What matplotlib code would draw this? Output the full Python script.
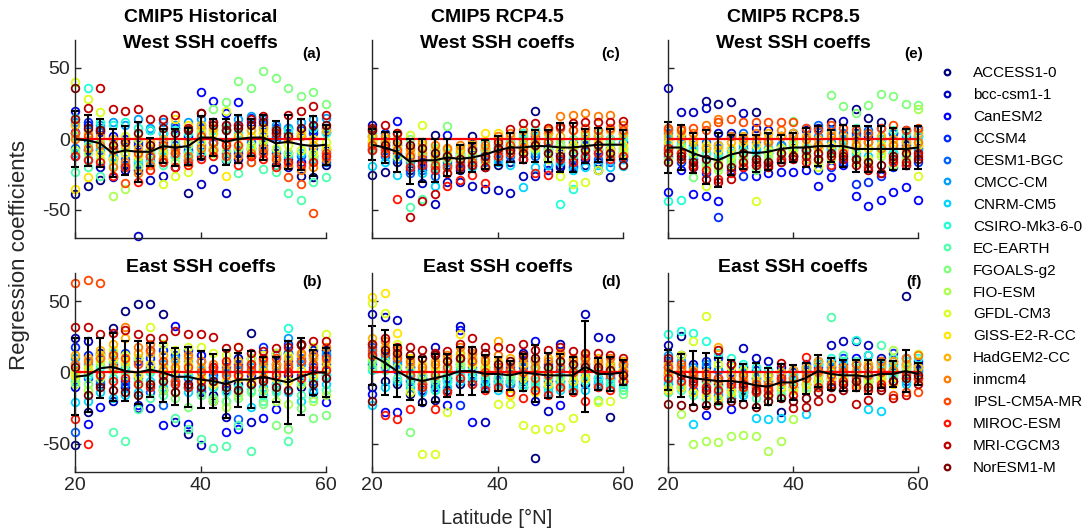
import matplotlib.pyplot as plt
import numpy as np
from matplotlib.lines import Line2D

plt.rcParams['font.family'] = ['Liberation Sans', 'DejaVu Sans']
plt.rcParams['axes.unicode_minus'] = False

W, H = 1091, 532

models = ['ACCESS1-0', 'bcc-csm1-1', 'CanESM2', 'CCSM4', 'CESM1-BGC', 'CMCC-CM',
          'CNRM-CM5', 'CSIRO-Mk3-6-0', 'EC-EARTH', 'FGOALS-g2', 'FIO-ESM', 'GFDL-CM3',
          'GISS-E2-R-CC', 'HadGEM2-CC', 'inmcm4', 'IPSL-CM5A-MR', 'MIROC-ESM',
          'MRI-CGCM3', 'NorESM1-M']
lats = [20, 22, 24, 26, 28, 30, 32, 34, 36, 38, 40, 42, 44, 46, 48, 50, 52, 54, 56, 58, 60]

# (a) historical, west SSH coefficients, one row per model
west_hist = [
    [-39, -33, -29, -14, -18, -22, -12, -16, -10, -38, -12, -8, -15, -10, -6, -8, -18, -14, -26, -27, -18],
    [-12, -8, -20, -27, -22, -68, -29, -26, -20, -15, -32, -21, -38, -14, -12, -4, -10, -20, -16, -12, -8],
    [20, 10, 5, 2, 0, -4, 6, 4, 8, 2, 33, 27, 18, 26, 12, 14, 8, 4, 2, 6, 5],
    [5, 12, 8, -6, -2, -2, -8, -2, -4, -8, 8, -3, 6, 10, 15, 10, 2, 8, 6, 4, 8],
    [-6, -1, -8, -12, -14, -18, -15, -10, -6, -9, -4, -6, -10, -8, -2, 2, 0, -10, -12, -6, -16],
    [12, 6, 10, 12, 10, 14, 8, 12, 10, 12, 14, 12, 10, 14, 16, 14, 10, 8, 12, 14, 15],
    [-10, -14, -6, -12, -10, -16, -10, -8, -12, -14, 4, -2, -4, -6, -8, -6, -8, -12, -10, -14, -10],
    [15, 36, 12, 10, 12, 8, 6, 4, 6, 4, 10, 6, 8, 4, 6, 8, 4, 6, 4, 8, 4],
    [-23, -20, -26, -18, -20, -14, -16, -18, -12, -10, -10, -12, -14, -24, -16, -21, -23, -38, -43, -30, -27],
    [2, -4, -2, -8, -6, -12, -10, -6, -2, -4, 4, 21, 26, 41, 36, 48, 43, 36, 30, 33, 25],
    [-8, -10, -14, -40, -35, -20, -18, -14, -16, -12, -6, -10, -8, -6, -4, -2, -14, -10, -8, -12, -6],
    [40, 28, 19, -6, 2, 0, -4, -32, -26, -23, -2, -6, 20, 2, -6, 0, -6, -4, -8, -10, -2],
    [-35, -27, -10, -14, -10, -12, -6, -10, 14, 10, 6, 4, -26, -4, 2, 4, 6, 2, 4, 0, -6],
    [10, 4, 2, 0, -4, -6, -2, 0, -6, -2, 10, 8, 6, 2, 6, 8, 4, 0, 2, -4, 6],
    [0, -6, -4, -20, -16, -24, -18, -14, -8, -12, -6, -8, -2, -12, -10, -6, -12, -18, -22, -20, -14],
    [4, 2, 6, -8, -31, -10, -12, -4, -10, -16, 2, -2, -12, -4, -16, -10, -14, -27, -32, -52, -10],
    [-12, -15, -16, -26, -20, -30, -22, -16, -20, -18, -14, -12, -4, -18, -12, -14, -20, -16, -18, -16, -12],
    [14, 22, 36, 21, 20, 21, 14, 14, 17, 8, 18, 12, 10, 10, 14, 16, 4, 17, 20, 23, 17],
    [36, 8, 6, -4, -2, 4, -4, 8, 4, 6, 18, 10, 6, 8, 10, 12, 6, 2, 8, 10, 10],
]
west_hist_mean = [0, -1, -3, -10, -8, -9, -9, -5, -6, -5, 1, 1, -2, 0, 1, 1, -3, -2, -4, -5, -4]
west_hist_std = [20, 18, 17, 17, 17, 21, 10, 12, 13, 13, 15, 13, 16, 17, 13, 16, 16, 19, 18, 21, 14]

# (b) historical, east SSH coefficients
east_hist = [
    [-51, -28, -8, 31, 43, 48, 48, 41, -6, -43, -14, -16, -12, -8, 28, -4, 6, -2, -10, -14, 16],
    [24, 22, 14, -20, -10, -25, -25, -12, -35, -10, -51, -20, -31, 10, -35, -12, 12, 14, 8, 16, 12],
    [-10, -36, -24, 10, -6, -23, 4, -37, 33, -36, 12, 4, -42, -40, -2, -32, -26, 8, 20, 12, -21],
    [18, 12, 10, 6, 14, 8, 10, 16, 12, 16, 8, -2, 4, 6, 10, 18, 14, 20, -2, 4, 6],
    [-42, -4, -6, 2, -8, -4, -14, -23, -2, -4, -12, -10, -8, -33, -8, 2, -8, 14, 10, -6, -2],
    [10, 6, 12, 14, 4, 10, 16, 6, 10, 8, 2, -4, 0, 2, 4, 6, 0, 24, 6, 10, 14],
    [-21, -20, -14, -18, -16, -14, -6, -10, -8, -14, -16, -18, -20, -14, -24, -10, -12, -14, -20, -12, -8],
    [-6, -2, 4, -4, 2, -8, 0, -4, -6, -2, -8, -10, -14, -10, -12, -16, -8, 31, -6, -4, -2],
    [2, 0, -2, -42, -48, -26, -18, -16, -32, -40, -47, -53, -52, -37, -55, -20, -14, -48, -16, -18, -12],
    [-4, -8, 6, 8, -2, -6, 2, -4, -18, -24, -16, -18, -20, -18, -14, -22, -37, -40, -25, -32, -30],
    [-8, -12, -4, 2, 6, -2, -8, -12, -14, 2, -2, -20, -24, -16, -6, -12, -20, -22, -8, -20, -16],
    [0, 4, 8, 16, 12, 10, 32, 20, 16, 18, 18, 14, 12, 18, 10, 12, 14, 12, 20, 18, 27],
    [-2, 2, 12, 10, 8, -2, 6, 4, 2, 6, -4, -8, -6, -4, -6, 0, -4, -6, 2, -2, 4],
    [12, 10, 16, 20, 24, 14, 14, 12, 8, 10, 4, 2, 6, 8, 6, 4, 6, 10, 12, 10, 8],
    [6, 8, 10, 4, 32, 18, 20, 2, 4, 12, 8, 6, 2, -2, 0, 8, 4, 6, 14, 12, 18],
    [63, 65, 63, 12, 10, 6, 16, 8, -6, 4, 0, 2, -2, 4, 2, -4, 10, 4, 8, 6, 10],
    [-33, -50, -2, -6, -4, -8, -10, -2, -8, -10, -6, 4, 8, -2, 6, 10, -2, 0, -4, 2, 2],
    [32, 32, 27, 28, 30, 27, 24, 24, 29, 27, 27, 25, 17, 18, 14, 15, 17, 18, 19, 22, 22],
    [4, -16, -10, -12, -14, -16, -8, -6, -14, -8, -10, -6, -10, -12, -8, -6, -10, -12, 20, -8, -4],
]
east_hist_mean = [-3, -2, 3, 4, 1, 0, 2, 0, -3, -3, -5, -6, -8, -5, -5, -3, -5, -7, -3, 0, 0]
east_hist_std = [27, 26, 21, 24, 21, 22, 19, 21, 20, 21, 20, 19, 24, 19, 20, 14, 16, 29, 27, 16, 17]

# (c) RCP4.5, west SSH coefficients
west_rcp45 = [
    [-25, -23, -16, -22, -20, 3, -18, -22, 2, -20, -18, -16, -14, 20, -18, -20, -14, -18, -16, -27, -12],
    [10, -2, -10, -38, -31, -46, -30, -30, -33, -35, -36, -38, -26, -26, -22, -18, -20, -14, -22, -12, -10],
    [-6, -8, 13, -14, -16, -20, 3, -12, -6, -8, -4, -8, -4, -2, -6, -10, -6, -4, -8, -6, -2],
    [2, 4, -4, -10, -12, -8, -14, -16, -18, -12, -10, -2, 0, 2, -2, -4, -2, 0, 2, 0, 4],
    [-8, -12, -14, -24, -22, -26, -16, -20, -14, -16, -14, -12, -10, -12, -14, -16, -18, -12, -14, -16, -14],
    [-2, -4, -6, -16, -18, -14, -12, -10, -8, -10, -6, -4, -8, -10, -8, -12, -10, -8, -10, -8, -6],
    [-19, -16, -25, -20, -24, -33, -20, -18, -20, -14, -16, -18, -34, -20, -18, -16, -22, -20, -18, -20, -19],
    [4, 2, 0, -6, -4, -10, -8, -6, -4, -2, 0, 2, 4, 6, 4, -46, -35, -6, -4, -2, 0],
    [-4, -6, -8, -48, -42, -20, -10, -12, -16, -14, -12, -10, -6, -8, -10, -8, -12, -10, -6, -10, -8],
    [-6, -2, -4, 0, -8, -6, 9, -10, -12, -8, -4, -2, 2, 4, 0, -2, 0, 2, 4, 0, 2],
    [-8, -10, -12, -14, -10, -16, -14, -12, -10, -6, -8, -6, -4, -6, -8, -4, -6, -2, -6, -4, -6],
    [0, -4, -2, 3, 10, -8, -12, -14, -16, -18, -12, -10, -8, -6, -14, -26, -32, -30, -22, -12, -10],
    [-2, 0, -6, -10, -4, -12, -8, -6, -8, 4, 4, -4, -6, -2, 8, -8, -4, -6, -2, -8, -4],
    [2, -2, 0, -8, -10, -12, -6, -8, -4, -6, 0, 2, -2, 0, 4, 2, 6, 4, 2, 6, 4],
    [6, 2, 4, -6, -2, -4, -6, -4, -2, -4, 2, 4, 6, 4, 6, 16, 17, 18, 16, 17, 10],
    [-4, -6, -8, -12, -14, -18, -20, -18, -16, -14, -8, -4, -6, -4, -2, 8, 6, 8, 6, 8, 6],
    [-8, -10, -42, -20, -18, -22, -33, -29, -25, -31, -12, -10, -14, -24, -25, -14, -16, -12, -10, -14, -12],
    [8, 10, 4, -55, -44, -39, -24, -20, -18, -20, -2, 7, 11, 11, 8, 9, 11, 12, 12, 12, 13],
    [6, -4, -2, -4, -6, -10, -12, -14, -8, -12, -6, -8, -10, -4, -10, -12, -10, -8, -4, -10, -18],
]
west_rcp45_mean = [-4, -6, -9, -16, -15, -15, -13, -14, -13, -11, -8, -6, -6, -5, -5, -6, -6, -5, -4, -4, -4]
west_rcp45_std = [11, 11, 14, 16, 15, 15, 13, 10, 10, 10, 10, 10, 11, 11, 11, 17, 17, 12, 12, 11, 10]

# (d) RCP4.5, east SSH coefficients
east_rcp45 = [
    [-10, -6, -8, -15, -21, -19, -12, -8, -6, -10, -8, -6, -10, -60, -10, -6, -12, -8, -4, -31, -6],
    [41, 39, 37, 4, -8, 18, -4, 33, 10, -35, -6, 2, 14, -20, -27, 20, -6, 41, 25, 24, 6],
    [-15, -28, -28, -6, -12, -10, -23, 30, -35, -8, -4, -8, -6, 22, -6, -23, 4, 6, -8, -4, -6],
    [6, 4, 2, -2, -4, 0, 2, -23, 4, 2, 0, 4, 8, 4, 6, 2, 0, 4, 2, 4, 2],
    [18, 12, 8, 4, -2, -6, -4, 6, 8, 4, 2, -2, 4, 8, 4, 0, 6, 10, 6, 2, 4],
    [14, 10, 6, 0, -4, -8, -6, 2, -2, -4, -6, -8, -4, 2, -4, -6, -8, -2, -6, -4, -2],
    [-23, -10, -6, -10, -14, -12, -10, -6, -8, -10, -12, -14, -8, -10, -14, -12, -10, -12, -8, -10, -8],
    [2, 6, 10, -4, -8, -12, -6, -2, -4, -6, -8, -4, -2, -6, -10, -8, -12, -6, -4, -8, -10],
    [8, 2, -4, -8, -10, -6, -2, 4, 2, -2, -4, -6, -10, -8, -4, -2, -6, -4, -10, -6, -12],
    [4, 8, 12, -42, -6, -4, 2, 8, 6, 4, 2, -2, 6, 4, 2, 6, 4, 8, -19, 2, -15],
    [10, 6, 4, 2, -2, 0, 4, 6, 8, 2, 4, 0, -2, 2, 0, -4, -2, 0, 4, 6, 2],
    [49, 42, 20, -14, -57, -57, -28, 12, 10, 6, -22, -22, -37, -40, -40, -38, -32, -46, -21, -20, -4],
    [53, 56, 28, 10, 6, 4, 8, 27, 6, 4, 8, -16, -4, -14, -8, -10, -6, -4, 6, 4, 2],
    [24, 18, 12, 6, 2, 8, 10, 14, 12, 10, 22, 10, 6, 8, 10, 12, 8, 12, 10, 6, 8],
    [20, 22, 16, 8, 4, 6, 12, 18, 14, 8, 12, 6, 10, 4, 8, 14, 10, 6, 8, 10, 6],
    [16, 14, 10, -2, -8, -2, 4, 10, 8, 0, 4, 2, 0, -4, -2, 4, 0, 10, 2, -2, 0],
    [12, -30, -33, -26, -10, -26, -14, -4, -8, -12, -10, -14, -18, -12, -16, -10, -14, -20, -10, -12, -6],
    [20, 24, 18, 18, 16, 14, 15, 20, 24, 18, 18, 17, 20, 16, 16, 18, 15, 14, 14, 12, 10],
    [-20, 16, 14, 12, 10, 12, 8, 10, 16, 14, 6, 8, 12, 10, 4, 8, 6, 4, 4, 2, -2],
]
east_rcp45_mean = [12, 7, 1, -4, -6, -4, -2, 1, 1, -1, -1, -2, 0, -1, -2, -2, -2, 4, -1, -1, 0]
east_rcp45_std = [21, 23, 18, 15, 17, 17, 15, 17, 17, 13, 12, 10, 13, 20, 16, 15, 13, 32, 11, 12, 9]

# (e) RCP8.5, west SSH coefficients
west_rcp85 = [
    [-8, -10, -14, 27, 25, 26, -6, 19, -10, -4, -6, -8, -6, 12, -8, 21, 15, 12, -10, -4, -6],
    [36, 19, 19, 22, 4, 4, 18, 8, 6, 2, 4, 6, 8, -6, 13, 4, 2, 0, 4, 6, 2],
    [-37, -22, -39, -40, -44, -18, -20, -26, -24, -23, -23, -22, -33, -27, -18, -40, -47, -43, -37, -34, -43],
    [-12, -16, -20, -24, -55, -22, -26, -18, -16, -14, -12, -14, -22, -20, -16, -32, -30, -26, -20, -18, -16],
    [4, 2, -4, -2, -6, 2, 4, -2, 0, 2, 4, 8, 10, 6, 4, 2, 6, 8, 4, 2, 6],
    [-4, -6, -8, -6, -10, -8, -4, -6, -2, -4, -2, 0, 2, -2, 0, -4, -2, -6, -4, -2, -8],
    [0, -2, -6, -10, -4, -12, -14, -8, -6, -10, -8, -6, -4, -8, -6, -10, -12, -8, -10, -6, -4],
    [-44, -43, -12, -16, -14, -10, -12, -14, -20, -16, -12, -10, -14, -8, -10, -12, -6, -8, -10, -12, 2],
    [6, -4, -6, -10, -12, -14, -8, -12, -10, -6, -4, -8, -10, -12, -4, 8, 4, 0, 6, 4, -2],
    [-10, -14, -27, -18, -20, -16, -18, -22, -14, -12, 13, -10, -6, 31, 23, 18, 24, 32, 30, 25, 24],
    [-14, -12, -16, -20, -22, -18, -14, -16, -12, -10, -8, -12, -16, -14, -12, -16, -14, -12, -18, -14, 21],
    [-8, -6, -10, -33, -16, -12, -10, -44, -8, -6, -10, -14, -20, -10, -12, -8, -14, -10, -12, -16, -26],
    [-2, 4, 0, -4, -8, -6, -2, -4, 0, 2, -2, -4, -6, -4, -8, -2, -6, -4, -2, -8, -4],
    [2, 0, -2, -6, -4, -2, 2, 0, 4, 2, 4, 2, 0, 4, 2, 0, -2, 2, 0, -2, 4],
    [6, 8, 4, 10, 14, 2, 0, 4, -2, 6, 2, 0, -4, 2, -2, -4, -2, -6, -4, -6, -2],
    [8, 6, 8, 6, 12, 14, 12, 12, 12, 12, 12, 8, 6, 10, 8, 6, 4, 8, 10, 6, 8],
    [-6, -10, -18, -22, -28, -24, -20, -16, -18, -14, -12, -16, -14, -18, -10, -14, -20, -24, -16, -18, -12],
    [-10, -14, -20, -28, -30, -28, -16, -18, -20, -16, -14, -12, -10, -12, -14, -18, -22, -24, -14, -16, -10],
    [-16, -12, -16, -14, -18, -20, -10, -14, -16, -10, -12, -8, -14, -10, -12, -14, -16, -18, -12, -10, -14],
]
west_rcp85_mean = [-6, -6, -10, -13, -15, -11, -9, -10, -9, -7, -6, -6, -5, -5, -5, -7, -7, -7, -7, -7, -6]
west_rcp85_std = [18, 16, 14, 19, 19, 14, 12, 13, 13, 10, 10, 14, 14, 11, 15, 16, 16, 16, 15, 14, 15]

# (f) RCP8.5, east SSH coefficients
east_rcp85 = [
    [-2, 26, -4, -6, -8, -10, -12, -14, -16, -28, -10, -8, -6, -4, -2, 0, -4, -2, 0, 54, 2],
    [19, 12, 6, 4, 2, 0, 17, 10, 8, 4, 2, 4, 6, 19, 22, 22, 19, 10, 8, 6, 8],
    [8, 4, 0, -30, -4, -26, -6, -4, -2, 0, -4, 2, 4, 8, 6, 10, 4, 6, 2, 4, 6],
    [4, 2, -2, 8, 10, 6, 4, 2, -6, -2, 0, 6, 8, 4, 10, 6, 12, 8, 14, 10, 4],
    [-8, -10, -12, -14, -16, -18, -14, -10, -12, -8, -6, -4, -2, -6, -4, -8, -6, -4, -2, -6, -4],
    [12, 8, 4, 6, 2, -2, 0, -4, -6, -4, -2, 2, 0, 4, 2, 0, -2, 4, 6, 2, 0],
    [-6, -8, -36, -10, -14, -12, -16, -32, -33, -32, -10, -29, -8, -10, -12, -6, -26, -27, -4, -8, -6],
    [27, 29, 28, 22, 14, 10, 6, 4, 2, 0, -2, 4, 6, 10, 8, 23, 12, 6, 4, 8, 10],
    [-14, -12, -16, -18, -20, -16, -14, -18, -20, -16, -12, -10, -8, 39, 12, 8, 6, 19, 10, 6, 4],
    [2, -2, -6, -8, -10, -12, -10, -14, -16, -12, -10, -8, -6, -4, -2, -6, -8, -4, -2, 0, -2],
    [-10, -29, -50, -48, -49, -45, -44, -45, -55, -48, -33, -12, -10, -8, -6, -10, -4, -6, 16, -4, 13],
    [-2, 12, 22, 40, 6, 4, 2, -2, -4, -6, -8, -4, -2, 0, -4, -2, -6, -2, 2, 4, 13],
    [-12, -10, -14, -16, -18, -14, -10, -12, -14, -10, -12, -8, -6, -4, -6, -8, -10, -6, -8, -4, -6],
    [6, 4, 2, 0, 18, -2, -4, -6, -2, 0, 2, 4, 8, 6, 4, 2, 6, 4, 8, 6, 4],
    [0, 2, -2, -4, -6, -8, -6, -10, -8, -6, -4, -2, 0, 2, 4, 6, 4, 8, 2, 10, 12],
    [4, 6, 0, -2, -4, -6, -2, -8, -10, -6, -8, -4, 2, -2, 0, -4, -2, 0, -16, -14, -14],
    [-4, -6, -8, -10, -12, -8, -10, -14, -12, -4, -16, 11, -10, -8, -6, -10, -12, -8, -6, -2, -4],
    [10, -2, -6, -12, 16, 6, -8, -12, -16, 7, -25, -24, -20, -18, -12, -22, -19, -10, -18, -16, -8],
    [-22, -23, -24, -23, -23, -20, -22, -24, -20, -18, -20, -18, -14, -10, -8, -6, -10, -12, -6, -4, -2],
]
east_rcp85_mean = [2, -2, -4, -5, -6, -6, -7, -9, -10, -7, -7, -4, 1, -1, -2, -2, -3, -1, -1, 1, -1]
east_rcp85_std = [14, 15, 19, 19, 16, 15, 13, 16, 13, 13, 12, 11, 11, 11, 11, 11, 12, 10, 9, 15, 8]

panels = [
    (west_hist, west_hist_mean, west_hist_std, 0, 0, '(a)'),
    (east_hist, east_hist_mean, east_hist_std, 1, 0, '(b)'),
    (west_rcp45, west_rcp45_mean, west_rcp45_std, 0, 1, '(c)'),
    (east_rcp45, east_rcp45_mean, east_rcp45_std, 1, 1, '(d)'),
    (west_rcp85, west_rcp85_mean, west_rcp85_std, 0, 2, '(e)'),
    (east_rcp85, east_rcp85_mean, east_rcp85_std, 1, 2, '(f)'),
]
col_titles = ['CMIP5 Historical', 'CMIP5 RCP4.5', 'CMIP5 RCP8.5']

colors = plt.cm.jet(np.linspace(0, 1, len(models)))

fig = plt.figure(figsize=(W / 100, H / 100), dpi=100)

# axes boxes in pixels
lefts = [75, 372, 668]
widths = [251, 251, 250]
rows = [(39.6, 238.4), (273, 472)]
tag_dx = [-14, -12, -4]

for data, mean, std, r, c, tag in panels:
    top, bot = rows[r]
    ax = fig.add_axes([lefts[c] / W, 1 - bot / H, widths[c] / W, (bot - top) / H])
    for i, vals in enumerate(data):
        ax.plot(lats, vals, 'o', ls='none', mfc='none', mec=colors[i], ms=5.5, mew=1.3, clip_on=False)
    ax.plot([lats[0], lats[-1]], [0, 0], color='red', lw=1.6)
    ax.errorbar(lats, mean, yerr=std, color='k', lw=1.5, capsize=3, capthick=1.5, clip_on=False)
    ax.set_xlim(20, 60)
    ax.set_ylim(-70, 70)
    ax.set_xticks([20, 40, 60])
    ax.set_yticks([-50, 0, 50])
    for s in ['top', 'right']:
        ax.spines[s].set_visible(False)
    for s in ['left', 'bottom']:
        ax.spines[s].set_color('0.15')
        ax.spines[s].set_linewidth(1.0)
    ax.tick_params(direction='in', length=4, width=1.0, color='0.15', labelsize=14, labelcolor='0.15')
    if r == 0:
        ax.set_xticklabels([])
    if c > 0:
        ax.set_yticklabels([])
    # titles and panel tags
    xc = lefts[c] + widths[c] / 2
    xt = lefts[c] + widths[c] + tag_dx[c]
    if r == 0:
        fig.text(xc / W, 1 - 17 / H, col_titles[c], ha='center', va='center', fontsize=14, fontweight='bold')
        fig.text(xc / W, 1 - 43 / H, 'West SSH coeffs', ha='center', va='center', fontsize=14, fontweight='bold')
        fig.text(xt / W, 1 - 54 / H, tag, ha='center', va='center', fontsize=11, fontweight='bold')
    else:
        fig.text(xc / W, 1 - 267 / H, 'East SSH coeffs', ha='center', va='center', fontsize=14, fontweight='bold')
        fig.text(xt / W, 1 - 282 / H, tag, ha='center', va='center', fontsize=11, fontweight='bold')

fig.text(20 / W, 1 - 255 / H, 'Regression coefficients', rotation=90, ha='center', va='center', fontsize=16, color='0.15')
fig.text(497 / W, 1 - 518 / H, 'Latitude [°N]', ha='center', va='center', fontsize=14.5, color='0.15')

handles = [Line2D([], [], ls='none', marker='o', mfc='none', mec=colors[i], ms=4, mew=1.6) for i in range(len(models))]
fig.legend(handles, models, loc='upper left', bbox_to_anchor=(935 / W, 1 - 60 / H), frameon=False,
           fontsize=11, handlelength=0.8, handletextpad=1.3, labelspacing=0.52, borderaxespad=0)

fig.savefig('out.png', dpi=100)
